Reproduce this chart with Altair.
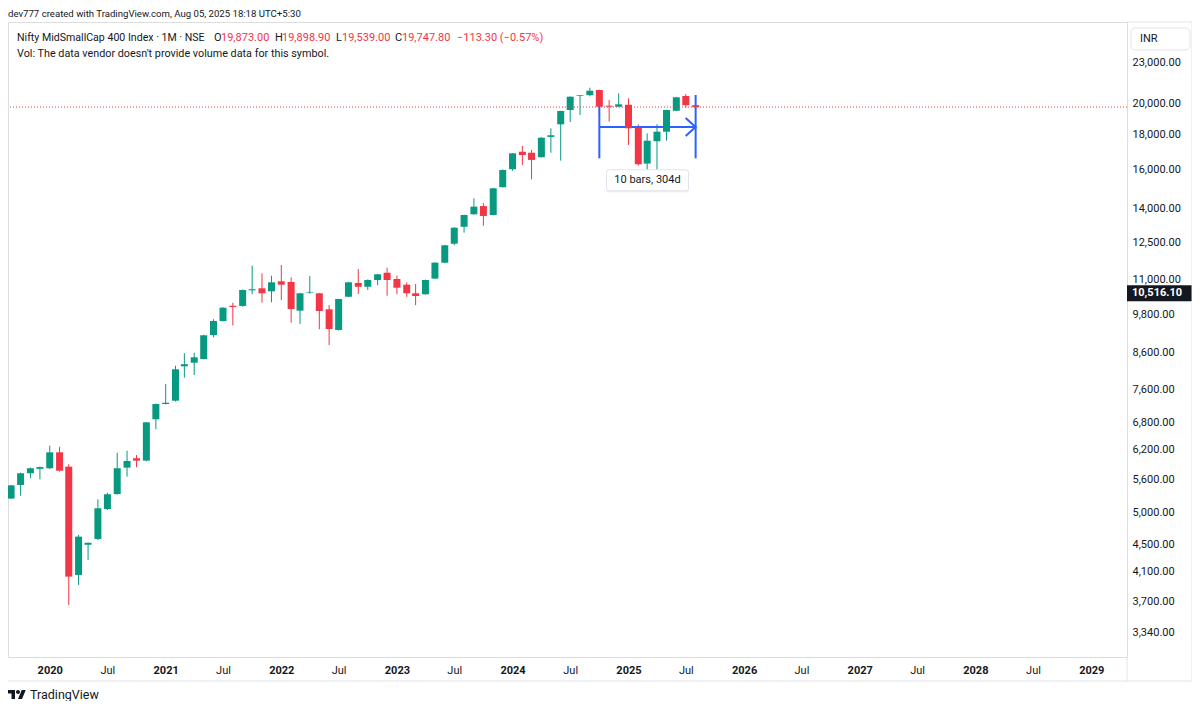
import altair as alt
import pandas as pd

# ---------------- data ----------------
months = (
    ["2019-09", "2019-10", "2019-11", "2019-12"]
    + [f"{y}-{m:02d}" for y in range(2020, 2025) for m in range(1, 13)]
    + [f"2025-{m:02d}" for m in range(1, 9)]
)
opens = [
    5250, 5497, 5719, 5805,
    5817, 6139, 5848, 4054, 4490, 4579, 5068, 5330, 5829, 6017, 5969, 6865,
    7229, 7311, 8213, 8314, 8419, 9130, 9574, 10080, 10075, 10620, 10694, 10586,
    10950, 10925, 9915, 10540, 10515, 9960, 9288, 10393, 10888, 10750, 10999, 11273,
    11036, 10826, 10515, 10479, 11050, 11662, 12436, 13170, 13737, 14125, 13705, 15057,
    16000, 16979, 16920, 16664, 17850, 18627, 19550, 20500, 20560, 20920, 19840, 19771,
    19900, 18410, 16310, 17590, 18168, 19500, 20500, 19873,
]
highs = [
    5497, 5730, 5830, 5850,
    6278, 6256, 5896, 4642, 4525, 5237, 5355, 6131, 6172, 6083, 6800, 7240,
    7735, 8229, 8583, 8600, 9140, 9630, 10030, 10185, 10650, 11543, 11251, 11160,
    11572, 11100, 10530, 11147, 10530, 10100, 10320, 10930, 11416, 11020, 11230, 11467,
    11160, 10913, 10850, 11010, 11680, 12390, 13150, 13720, 14502, 14270, 15020, 15990,
    16900, 17310, 17077, 17820, 18378, 19500, 20470, 20560, 21080, 20950, 20224, 20688,
    20340, 18627, 18070, 18627, 19570, 20430, 20634, 19898.9,
]
lows = [
    5243, 5302, 5623, 5604,
    5800, 5750, 3662, 3919, 4265, 4560, 5050, 5320, 5654, 5837, 5955, 6636,
    7220, 7290, 7903, 7975, 8410, 9060, 9560, 9436, 10050, 10479, 10185, 10200,
    10279, 9519, 9478, 10500, 9309, 8827, 9270, 10380, 10490, 10633, 10810, 10430,
    10480, 10393, 10100, 10470, 11040, 11640, 12369, 12908, 13720, 13217, 13690, 15040,
    15920, 16232, 15465, 16650, 16920, 16474, 18775, 19223, 20480, 19223, 18792, 19750,
    17368, 16200, 15960, 15692, 17623, 19480, 19700, 19539,
]
closes = [
    5490, 5719, 5817, 5840,
    6139, 5768, 4031, 4615, 4520, 5080, 5327, 5817, 5962, 5969, 6795, 7229,
    7260, 8131, 8272, 8467, 9122, 9574, 10015, 10040, 10633, 10660, 10515, 10913,
    10826, 9971, 10515, 10565, 9904, 9319, 10314, 10913, 10750, 10999, 11213, 10999,
    10715, 10515, 10420, 10999, 11662, 12369, 13128, 13705, 14096, 13660, 15001, 15960,
    16887, 16790, 16513, 17803, 17950, 19485, 20451, 20550, 20870, 19771, 19771, 19930,
    18378, 16270, 17623, 18168, 19550, 20410, 19873, 19747.8,
]
assert len(months) == len(opens) == len(highs) == len(lows) == len(closes)

price_ticks = [23000, 20000, 18000, 16000, 14000, 12500, 11000, 9800, 8600,
               7600, 6800, 6200, 5600, 5000, 4500, 4100, 3700, 3340]
time_tick_years = list(range(2020, 2030))
badge_price = 10516.10

measure_start, measure_end = "2024-10", "2025-08"
measure_low, measure_high, measure_mid = 16604, 20569, 18458

GREEN, RED, BLUE, INK, BORDER = "#089981", "#F23645", "#2962FF", "#131722", "#e0e3eb"
FONT = "Roboto"

# ---------------- frames ----------------
def ts(m):
    return f"{m}-01T00:00:00"

df = pd.DataFrame({"date": [ts(m) for m in months], "o": opens, "h": highs,
                   "l": lows, "c": closes})

W, H = 1119, 635
x_scale = alt.Scale(domain=[alt.DateTime(year=2019, month=9, date=7),
                            alt.DateTime(year=2029, month=4, date=8)], nice=False)
y_scale = alt.Scale(type="log", domain=[3071, 26334], nice=False, zero=False)

x_vals = []
for yv in time_tick_years:
    x_vals.append(alt.DateTime(year=yv, month=1, date=1))
    if yv < 2029:
        x_vals.append(alt.DateTime(year=yv, month=7, date=1))

x_axis = alt.Axis(
    values=x_vals, title=None, grid=False, ticks=False, domain=False,
    labelExpr="month(datum.value) == 0 ? timeFormat(datum.value, '%Y') : 'Jul'",
    labelFontWeight={"condition": {"test": "month(datum.value) == 0", "value": "bold"},
                     "value": "normal"},
    labelFont=FONT, labelFontSize=11, labelColor=INK, labelPadding=7,
    labelOverlap=False, labelFlush=False,
)
y_axis = alt.Axis(
    orient="right", values=price_ticks, format=",.2f", title=None, grid=False,
    ticks=False, domain=False, labelAlign="left", labelBaseline="middle",
    labelPadding=5, labelFont=FONT, labelFontSize=11, labelColor=INK,
    labelOverlap=False, labelFlush=False,
)


def X(field):
    return alt.X(field, scale=x_scale, axis=x_axis)


def Y(field):
    return alt.Y(field, scale=y_scale, axis=y_axis)


color = alt.condition("datum.c >= datum.o", alt.value(GREEN), alt.value(RED))

wicks = alt.Chart(df).mark_rule(strokeWidth=1, clip=True).encode(
    x=X("date:T"), y=Y("l:Q"), y2="h:Q", color=color)
bodies = alt.Chart(df).mark_bar(size=7, clip=True).encode(
    x=X("date:T"), y=Y("o:Q"), y2="c:Q", color=color)

last_line = alt.Chart(pd.DataFrame({"p": [closes[-1]]})).mark_rule(
    color=RED, strokeDash=[1, 2], strokeWidth=1
).encode(y=Y("p:Q"))

# date-range measurement drawing
t0, t1 = pd.Timestamp(measure_start + "-01"), pd.Timestamp(measure_end + "-01")
n_bars = months.index(measure_end) - months.index(measure_start)
n_days = (t1 - t0).days
tmid = (t0 + (t1 - t0) / 2).strftime("%Y-%m-%dT00:00:00")

mv = pd.DataFrame({"t": [ts(measure_start), ts(measure_end)],
                   "lo": [measure_low] * 2, "hi": [measure_high] * 2})
m_vert = alt.Chart(mv).mark_rule(color=BLUE, strokeWidth=2).encode(
    x=X("t:T"), y=Y("lo:Q"), y2="hi:Q")
mh = pd.DataFrame({"t0": [ts(measure_start)], "t1": [ts(measure_end)], "m": [measure_mid]})
m_horiz = alt.Chart(mh).mark_rule(color=BLUE, strokeWidth=2).encode(
    x=X("t0:T"), x2="t1:T", y=Y("m:Q"))
m_arrow = alt.Chart(mh).mark_point(
    shape="M-1,-0.9L0,0L-1,0.9", filled=False, size=400, strokeWidth=2,
    color=BLUE, opacity=1
).encode(x=X("t1:T"), y=Y("m:Q"))
ml = pd.DataFrame({"t": [tmid], "p": [measure_low], "txt": [f"{n_bars} bars, {n_days}d"]})
ROUND_BOX = ("M-0.94,-0.256L0.94,-0.256Q1,-0.256 1,-0.196L1,0.196Q1,0.256 0.94,0.256"
             "L-0.94,0.256Q-1,0.256 -1,0.196L-1,-0.196Q-1,-0.256 -0.94,-0.256Z")
m_shadow = alt.Chart(ml).mark_point(
    shape=ROUND_BOX, filled=True, size=6900, color="#000000", opacity=0.06, yOffset=23.5
).encode(x=X("t:T"), y=Y("p:Q"))
m_box = alt.Chart(ml).mark_point(
    shape=ROUND_BOX, filled=True, size=6724,
    fill="white", stroke=BORDER, strokeWidth=1, opacity=1, yOffset=22
).encode(x=X("t:T"), y=Y("p:Q"))
m_text = alt.Chart(ml).mark_text(
    fontSize=11, font=FONT, color=INK, align="center", baseline="middle", yOffset=22
).encode(x=X("t:T"), y=Y("p:Q"), text="txt:N")

# black price badge on the price axis
bd = pd.DataFrame({"p": [badge_price], "txt": [f"{badge_price:,.2f}"]})
badge = alt.Chart(bd).mark_point(
    shape="M-1,-0.246L1,-0.246L1,0.246L-1,0.246Z", filled=True, size=4225,
    color=INK, opacity=1
).encode(x=alt.value(W + 32.5), y=Y("p:Q"))
badge_txt = alt.Chart(bd).mark_text(
    fontSize=11, font=FONT, fontWeight="bold", color="white", align="left",
    baseline="middle"
).encode(x=alt.value(W + 5), y=Y("p:Q"), text="txt:N")

one = pd.DataFrame({"k": [0]})


def label(txt, x, y, col=INK, size=11, weight="normal"):
    return alt.Chart(one).mark_text(
        text=txt, align="left", baseline="middle", fontSize=size, font=FONT,
        color=col, fontWeight=weight
    ).encode(x=alt.value(x), y=alt.value(y))


def line(x, x2, y, y2):
    return alt.Chart(one).mark_rule(color=BORDER, strokeWidth=1).encode(
        x=alt.value(x), x2=alt.value(x2), y=alt.value(y), y2=alt.value(y2))


header = label("dev777 created with TradingView.com, Aug 05, 2025 18:18 UTC+5:30",
               0, -8, INK, 9.6)
legend = [
    label("Nifty MidSmallCap 400 Index · 1M · NSE", 9, 16, INK, 10.6),
    label("O", 206, 16), label("19,873.00", 213, 16, RED),
    label("H", 267, 16), label("19,898.90", 274, 16, RED),
    label("L", 328, 16), label("19,539.00", 334, 16, RED),
    label("C", 387, 16), label("19,747.80", 394, 16, RED),
    label("\u2212113.30 (\u22120.57%)", 449, 16, RED),
    label("Vol: The data vendor doesn't provide volume data for this symbol.", 9, 32, INK, 10.8),
]
inr_box = alt.Chart(one).mark_rect(
    fill="white", stroke=BORDER, strokeWidth=1, cornerRadius=4
).encode(x=alt.value(W + 4), x2=alt.value(W + 63), y=alt.value(6), y2=alt.value(28))
inr_txt = label("INR", W + 13, 17)

logo = alt.Chart(one).mark_point(
    shape=("M-0.222,0.444L-0.611,0.444L-0.611,-0.167L-1,-0.167L-1,-0.556L-0.222,-0.556Z"
           "M0.556,0.444L0.111,0.444L0.528,-0.556L0.972,-0.556Z"
           "M-0.111,-0.333A0.222,0.222 0 1,0 0.333,-0.333A0.222,0.222 0 1,0 -0.111,-0.333Z"),
    filled=True, size=324, color=INK, opacity=1
).encode(x=alt.value(9), y=alt.value(673))
logo_txt = label("TradingView", 22, 673, INK, 12.5)

frame = [
    line(W, W + 65, 0, 0),            # top border over price scale
    line(W, W, H, H + 24),            # price-scale separator through time row
    line(0, W + 65, H + 24, H + 24),  # bottom border
    line(W + 65, W + 65, 0, H + 24),  # right border
]

chart = alt.layer(
    wicks, m_vert, m_horiz, m_arrow, bodies, last_line, m_shadow, m_box, m_text,
    badge, badge_txt, header, *legend, inr_box, inr_txt, logo, logo_txt, *frame,
).properties(
    width=W, height=H,
    autosize=alt.AutoSizeParams(type="none"),
    padding={"left": 0, "top": 14, "right": 65, "bottom": 44},
    background="white",
).configure_view(stroke=BORDER, strokeWidth=1).configure(font=FONT)

chart.save("out.html", embed_options={"renderer": "svg", "actions": False})
